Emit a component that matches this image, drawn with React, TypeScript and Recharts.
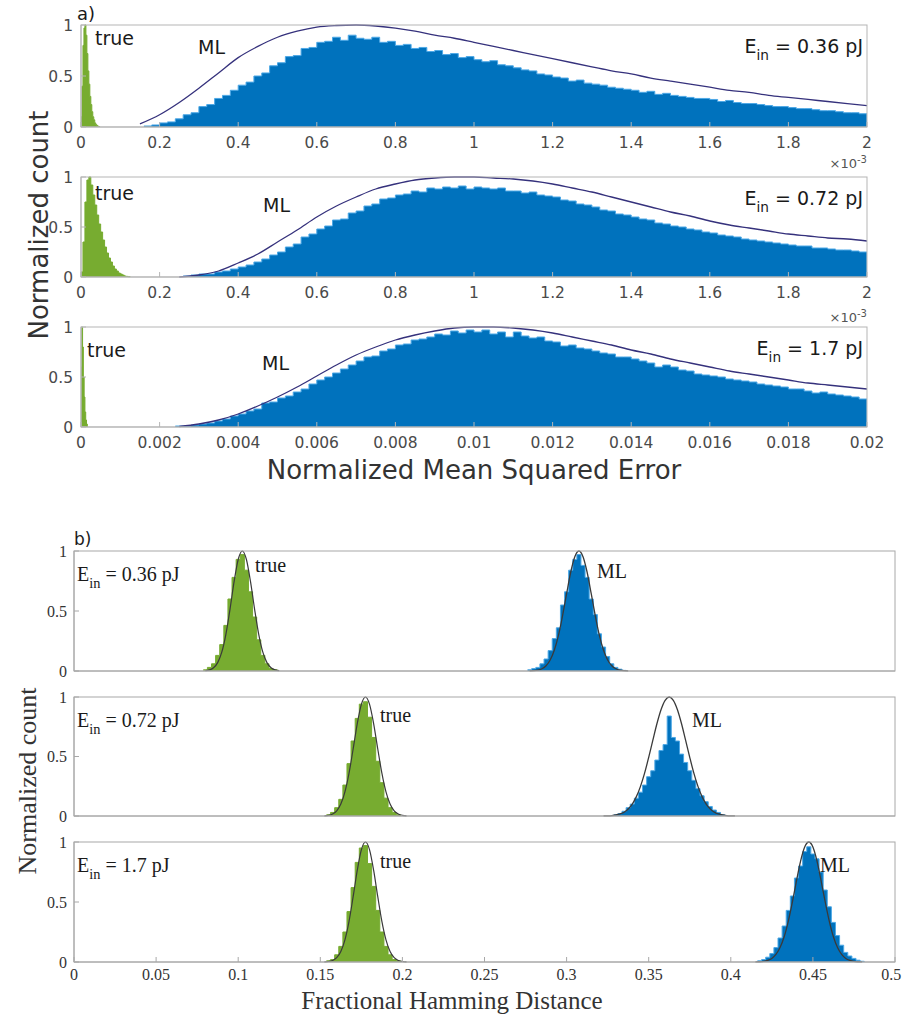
import React from "react";
import { ComposedChart, Area, Line, XAxis, YAxis } from "recharts";

// ---------- panel a : normalized mean squared error ----------
// E_in = 0.36 pJ
const a1TrueStart = 0;
const a1TrueBin = 0.0025;
const a1TrueCounts = [0.1, 0.4, 0.8, 0.97, 1.0, 0.9, 0.72, 0.55, 0.42, 0.3, 0.22, 0.15, 0.1, 0.07, 0.04, 0.025, 0.015, 0.008, 0.004];
const a1MlStart = 0.16;
const a1MlBin = 0.02;
const a1MlCounts = [
  0.01, 0.02, 0.04, 0.05, 0.08, 0.12, 0.14, 0.2, 0.22, 0.28,
  0.31, 0.36, 0.41, 0.44, 0.5, 0.53, 0.6, 0.63, 0.69, 0.7,
  0.77, 0.78, 0.83, 0.84, 0.88, 0.85, 0.9, 0.87, 0.86, 0.88,
  0.83, 0.84, 0.8, 0.81, 0.77, 0.78, 0.74, 0.75, 0.71, 0.72,
  0.68, 0.69, 0.66, 0.64, 0.65, 0.61, 0.6, 0.58, 0.56, 0.55,
  0.52, 0.51, 0.49, 0.48, 0.45, 0.46, 0.43, 0.42, 0.41, 0.39,
  0.38, 0.37, 0.36, 0.34, 0.35, 0.32, 0.33, 0.31, 0.3, 0.29,
  0.28, 0.28, 0.27, 0.25, 0.26, 0.24, 0.23, 0.23, 0.22, 0.21,
  0.2, 0.2, 0.19, 0.18, 0.18, 0.17, 0.16, 0.16, 0.15, 0.14,
  0.14, 0.13,
];
const a1FitStart = 0.15;
const a1FitStep = 0.05;
const a1Fit = [
  0.03, 0.12, 0.24, 0.38, 0.53, 0.68, 0.79, 0.88, 0.94, 0.98,
  0.995, 1.0, 0.99, 0.97, 0.94, 0.9, 0.87, 0.83, 0.79, 0.75,
  0.71, 0.67, 0.63, 0.59, 0.55, 0.52, 0.48, 0.45, 0.42, 0.39,
  0.36, 0.34, 0.31, 0.29, 0.27, 0.25, 0.23, 0.21,
];

// E_in = 0.72 pJ
const a2TrueStart = 0;
const a2TrueBin = 0.005;
const a2TrueCounts = [0.05, 0.35, 0.75, 0.97, 1.0, 0.92, 0.82, 0.72, 0.62, 0.53, 0.45, 0.37, 0.3, 0.24, 0.19, 0.15, 0.11, 0.08, 0.06, 0.04, 0.03, 0.02, 0.01, 0.006, 0.003];
const a2MlStart = 0.26;
const a2MlBin = 0.02;
const a2MlCounts = [
  0.01, 0.02, 0.03, 0.03, 0.05, 0.06, 0.08, 0.1, 0.12, 0.15,
  0.18, 0.22, 0.25, 0.3, 0.33, 0.4, 0.43, 0.48, 0.51, 0.57,
  0.58, 0.64, 0.66, 0.71, 0.73, 0.78, 0.79, 0.82, 0.83, 0.86,
  0.85, 0.89, 0.88, 0.9, 0.89, 0.91, 0.88, 0.9, 0.89, 0.88,
  0.89, 0.86, 0.86, 0.84, 0.85, 0.82, 0.81, 0.8, 0.77, 0.76,
  0.73, 0.72, 0.7, 0.67, 0.66, 0.63, 0.62, 0.6, 0.58, 0.57,
  0.54, 0.53, 0.51, 0.5, 0.48, 0.47, 0.45, 0.44, 0.42, 0.41,
  0.4, 0.38, 0.37, 0.36, 0.35, 0.34, 0.33, 0.32, 0.31, 0.31,
  0.29, 0.29, 0.28, 0.27, 0.27, 0.26, 0.25,
];
const a2FitStart = 0.25;
const a2FitStep = 0.05;
const a2Fit = [
  0, 0.02, 0.06, 0.14, 0.23, 0.35, 0.47, 0.6, 0.71, 0.8,
  0.88, 0.93, 0.97, 0.99, 1.0, 1.0, 0.99, 0.98, 0.96, 0.93,
  0.89, 0.85, 0.8, 0.75, 0.7, 0.65, 0.61, 0.56, 0.52, 0.49,
  0.46, 0.43, 0.41, 0.39, 0.38, 0.36,
];

// E_in = 1.7 pJ
const a3TrueStart = 0;
const a3TrueBin = 0.00002;
const a3TrueCounts = [0.6, 1.0, 0.8, 0.5, 0.3, 0.15, 0.07, 0.03];
const a3MlStart = 0.0024;
const a3MlBin = 0.0002;
const a3MlCounts = [
  0.01, 0.01, 0.02, 0.03, 0.04, 0.06, 0.08, 0.11, 0.13, 0.16,
  0.18, 0.24, 0.25, 0.29, 0.31, 0.35, 0.38, 0.43, 0.47, 0.5,
  0.54, 0.58, 0.62, 0.66, 0.7, 0.71, 0.76, 0.78, 0.82, 0.83,
  0.87, 0.88, 0.9, 0.93, 0.92, 0.96, 0.94, 0.97, 0.95, 0.97,
  0.93, 0.95, 0.9, 0.95, 0.91, 0.89, 0.9, 0.86, 0.85, 0.81,
  0.82, 0.79, 0.78, 0.76, 0.74, 0.73, 0.7, 0.7, 0.68, 0.66,
  0.64, 0.6, 0.62, 0.6, 0.57, 0.56, 0.53, 0.52, 0.51, 0.5,
  0.48, 0.47, 0.46, 0.45, 0.43, 0.42, 0.41, 0.4, 0.38, 0.38,
  0.36, 0.34, 0.35, 0.33, 0.32, 0.31, 0.3, 0.28,
];
const a3FitStart = 0.0025;
const a3FitStep = 0.0005;
const a3Fit = [
  0.005, 0.03, 0.07, 0.13, 0.21, 0.3, 0.4, 0.51, 0.62, 0.72,
  0.8, 0.87, 0.92, 0.96, 0.99, 1.0, 1.0, 0.99, 0.97, 0.94,
  0.9, 0.86, 0.82, 0.77, 0.73, 0.68, 0.64, 0.6, 0.56, 0.53,
  0.5, 0.47, 0.44, 0.42, 0.4, 0.38,
];

const aTicks = [0, 0.2, 0.4, 0.6, 0.8, 1, 1.2, 1.4, 1.6, 1.8, 2];
const a3Ticks = [0, 0.002, 0.004, 0.006, 0.008, 0.01, 0.012, 0.014, 0.016, 0.018, 0.02];

// ---------- panel b : fractional hamming distance ----------
const bBin = 0.0025;

const b1TrueStart = 0.07875;
const b1TrueCounts = [0.01, 0.03, 0.06, 0.13, 0.22, 0.38, 0.6, 0.78, 0.93, 0.97, 0.84, 0.66, 0.45, 0.26, 0.13, 0.06, 0.02, 0.01];
const b1TrueFitStart = 0.08;
const b1TrueFit = [0.0025, 0.009, 0.027, 0.07, 0.157, 0.306, 0.514, 0.744, 0.929, 1, 0.929, 0.744, 0.514, 0.306, 0.157, 0.07, 0.027, 0.009, 0.0025];
const b1MlStart = 0.27625;
const b1MlCounts = [0.01, 0.02, 0.03, 0.06, 0.1, 0.17, 0.27, 0.36, 0.55, 0.66, 0.84, 0.93, 0.97, 0.88, 0.78, 0.6, 0.47, 0.31, 0.2, 0.12, 0.06, 0.03, 0.015, 0.005];
const b1MlFitStart = 0.2775;
const b1MlFit = [0.0009, 0.0027, 0.0076, 0.019, 0.044, 0.092, 0.173, 0.295, 0.458, 0.644, 0.823, 0.952, 1, 0.952, 0.823, 0.644, 0.458, 0.295, 0.173, 0.092, 0.044, 0.019, 0.0076, 0.0027, 0.0009];

const b2TrueStart = 0.15375;
const b2TrueCounts = [0.01, 0.03, 0.07, 0.14, 0.26, 0.44, 0.63, 0.82, 0.94, 0.96, 0.83, 0.66, 0.46, 0.28, 0.15, 0.07, 0.03, 0.01];
const b2TrueFitStart = 0.1525;
const b2TrueFit = [0.0017, 0.0057, 0.017, 0.044, 0.101, 0.203, 0.36, 0.563, 0.775, 0.938, 1, 0.938, 0.775, 0.563, 0.36, 0.203, 0.101, 0.044, 0.017, 0.0057, 0.0017];
const b2MlStart = 0.32875;
const b2MlCounts = [0.01, 0.02, 0.04, 0.07, 0.1, 0.15, 0.2, 0.26, 0.33, 0.38, 0.47, 0.55, 0.6, 0.84, 0.66, 0.63, 0.52, 0.45, 0.38, 0.3, 0.23, 0.17, 0.12, 0.08, 0.05, 0.03, 0.01];
const b2MlFitStart = 0.3225;
const b2MlFit = [0.0007, 0.0017, 0.0039, 0.0083, 0.017, 0.032, 0.059, 0.1, 0.163, 0.249, 0.36, 0.493, 0.635, 0.775, 0.893, 0.972, 1, 0.972, 0.893, 0.775, 0.635, 0.493, 0.36, 0.249, 0.163, 0.1, 0.059, 0.032, 0.017, 0.0083, 0.0039, 0.0017, 0.0007];

const b3TrueStart = 0.15375;
const b3TrueCounts = [0.01, 0.02, 0.06, 0.13, 0.25, 0.42, 0.62, 0.83, 0.95, 0.97, 0.82, 0.63, 0.43, 0.25, 0.13, 0.06, 0.02, 0.01];
const b3TrueFitStart = 0.1525;
const b3TrueFit = [0.0012, 0.0043, 0.013, 0.036, 0.088, 0.185, 0.339, 0.544, 0.763, 0.935, 1, 0.935, 0.763, 0.544, 0.339, 0.185, 0.088, 0.036, 0.013, 0.0043, 0.0012];
const b3MlStart = 0.41625;
const b3MlCounts = [0.01, 0.02, 0.04, 0.07, 0.12, 0.2, 0.3, 0.43, 0.55, 0.7, 0.8, 0.92, 0.96, 0.9, 0.86, 0.75, 0.6, 0.46, 0.33, 0.22, 0.14, 0.08, 0.05, 0.03, 0.015, 0.006];
const b3MlFitStart = 0.415;
const b3MlFit = [0.0007, 0.002, 0.0053, 0.013, 0.03, 0.063, 0.12, 0.21, 0.339, 0.5, 0.677, 0.841, 0.958, 1, 0.958, 0.841, 0.677, 0.5, 0.339, 0.21, 0.12, 0.063, 0.03, 0.013, 0.0053, 0.002, 0.0007];

const bTicks = [0, 0.05, 0.1, 0.15, 0.2, 0.25, 0.3, 0.35, 0.4, 0.45, 0.5];
const yTicks = [0, 0.5, 1];

const GREEN = "#77AC30";
const BLUE = "#0072BD";
const SANS = "'DejaVu Sans', sans-serif";
const SERIF = "'Liberation Serif', 'Times New Roman', serif";

type Series = { key: string; start: number; step: number; values: number[]; hist?: boolean };

const round = (v: number) => Math.round(v * 1e8) / 1e8;

// merge histograms and fit curves into one table keyed by x
function buildRows(list: Series[]) {
  const rows = new Map<number, any>();
  const put = (x: number, key: string, v: number) => {
    const k = round(x);
    const row = rows.get(k) || { x: k };
    row[key] = v;
    rows.set(k, row);
  };
  list.forEach((s) => {
    s.values.forEach((v, i) => put(s.start + i * s.step, s.key, v));
    if (s.hist) put(s.start + s.values.length * s.step, s.key, 0);
  });
  return Array.from(rows.values()).sort((p, q) => p.x - q.x);
}

const a1Rows = buildRows([
  { key: "t", start: a1TrueStart, step: a1TrueBin, values: a1TrueCounts, hist: true },
  { key: "m", start: a1MlStart, step: a1MlBin, values: a1MlCounts, hist: true },
  { key: "f", start: a1FitStart, step: a1FitStep, values: a1Fit },
]);
const a2Rows = buildRows([
  { key: "t", start: a2TrueStart, step: a2TrueBin, values: a2TrueCounts, hist: true },
  { key: "m", start: a2MlStart, step: a2MlBin, values: a2MlCounts, hist: true },
  { key: "f", start: a2FitStart, step: a2FitStep, values: a2Fit },
]);
const a3Rows = buildRows([
  { key: "t", start: a3TrueStart, step: a3TrueBin, values: a3TrueCounts, hist: true },
  { key: "m", start: a3MlStart, step: a3MlBin, values: a3MlCounts, hist: true },
  { key: "f", start: a3FitStart, step: a3FitStep, values: a3Fit },
]);
const b1Rows = buildRows([
  { key: "t", start: b1TrueStart, step: bBin, values: b1TrueCounts, hist: true },
  { key: "ft", start: b1TrueFitStart, step: bBin, values: b1TrueFit },
  { key: "m", start: b1MlStart, step: bBin, values: b1MlCounts, hist: true },
  { key: "f", start: b1MlFitStart, step: bBin, values: b1MlFit },
]);
const b2Rows = buildRows([
  { key: "t", start: b2TrueStart, step: bBin, values: b2TrueCounts, hist: true },
  { key: "ft", start: b2TrueFitStart, step: bBin, values: b2TrueFit },
  { key: "m", start: b2MlStart, step: bBin, values: b2MlCounts, hist: true },
  { key: "f", start: b2MlFitStart, step: bBin, values: b2MlFit },
]);
const b3Rows = buildRows([
  { key: "t", start: b3TrueStart, step: bBin, values: b3TrueCounts, hist: true },
  { key: "ft", start: b3TrueFitStart, step: bBin, values: b3TrueFit },
  { key: "m", start: b3MlStart, step: bBin, values: b3MlCounts, hist: true },
  { key: "f", start: b3MlFitStart, step: bBin, values: b3MlFit },
]);

// x tick label that keeps the right-most label inside the page
const XTick = ({ x, y, payload, style }: any) => {
  const label = String(payload.value);
  const w = label.length * style.fontSize * 0.45;
  const cx = Math.min(x, 902 - w / 2);
  return (
    <text x={cx} y={y} dy="0.71em" textAnchor="middle" fontSize={style.fontSize} fill={style.fill} fontFamily={style.fontFamily}>
      {label}
    </text>
  );
};

const Sub = ({
  rows, top, plotH, plotL, plotR, domain, ticks, showX, font, tickFont,
  xMargin, yMargin, axisColor, textColor, fitColor, trueFit,
}: any) => {
  const mTop = 14;
  const axisH = 34;
  const tickStyle = { fontSize: tickFont, fill: textColor, fontFamily: font };
  return (
    <div style={{ position: "absolute", left: 0, top: top - mTop }}>
      <ComposedChart
        width={903}
        height={mTop + plotH + axisH}
        data={rows}
        margin={{ top: mTop, right: 903 - plotR, bottom: 0, left: 0 }}
      >
        <XAxis
          type="number"
          dataKey="x"
          domain={domain}
          ticks={ticks}
          interval={0}
          allowDataOverflow
          height={axisH}
          stroke={axisColor}
          tickSize={-5}
          tickMargin={xMargin}
          tick={showX ? (p: any) => <XTick {...p} style={tickStyle} /> : false}
        />
        <YAxis
          type="number"
          domain={[0, 1]}
          ticks={yTicks}
          interval={0}
          width={plotL}
          stroke={axisColor}
          tickSize={-5}
          tickMargin={yMargin}
          tick={tickStyle}
        />
        <Area
          type="stepAfter"
          dataKey="t"
          fill={GREEN}
          fillOpacity={1}
          stroke={GREEN}
          strokeWidth={1}
          connectNulls
          dot={false}
          activeDot={false}
          isAnimationActive={false}
        />
        <Area
          type="stepAfter"
          dataKey="m"
          fill={BLUE}
          fillOpacity={1}
          stroke="#4DA8E6"
          strokeWidth={1}
          connectNulls
          dot={false}
          activeDot={false}
          isAnimationActive={false}
        />
        {trueFit && (
          <Line
            type="monotone"
            dataKey="ft"
            stroke={fitColor}
            strokeWidth={1.2}
            dot={false}
            activeDot={false}
            connectNulls
            isAnimationActive={false}
          />
        )}
        <Line
          type="monotone"
          dataKey="f"
          stroke={fitColor}
          strokeWidth={1.3}
          dot={false}
          activeDot={false}
          connectNulls
          isAnimationActive={false}
        />
      </ComposedChart>
    </div>
  );
};

const Ein = ({ x, y, v, anchor, size, font }: any) => (
  <text x={x} y={y} textAnchor={anchor} fontSize={size} fontFamily={font} fill="#1a1a1a">
    E
    <tspan fontSize={size * 0.72} dy={size * 0.35}>in</tspan>
    <tspan dy={-size * 0.35}>{` = ${v} pJ`}</tspan>
  </text>
);

const Exp = ({ y }: any) => (
  <text x={867} y={y} textAnchor="end" fontSize={13} fontFamily={SANS} fill="#555">
    ×10
    <tspan dy={-5} fontSize={10}>-3</tspan>
  </text>
);

// subplot frames (box outline around each axes)
const aFrames = [
  { top: 25, h: 102 },
  { top: 177, h: 100 },
  { top: 327, h: 100 },
];
const bFrames = [
  { top: 551, h: 120 },
  { top: 697, h: 119 },
  { top: 842, h: 120 },
];

const aCommon = {
  plotL: 81, plotR: 867, font: SANS, tickFont: 15.5, xMargin: 15, yMargin: 13,
  axisColor: "#b5b5b5", textColor: "#4a4a4a", fitColor: "#35317c", showX: true,
};
const bCommon = {
  plotL: 74, plotR: 895, domain: [0, 0.5], ticks: bTicks, font: SERIF, tickFont: 16,
  xMargin: 12, yMargin: 12, axisColor: "#a8a8a8", textColor: "#333", fitColor: "#3a3a3a", trueFit: true,
};

export default function App() {
  return (
    <div style={{ position: "absolute", left: 0, top: 0, width: 903, height: 1024, background: "#fff" }}>
      <Sub {...aCommon} rows={a1Rows} top={aFrames[0].top} plotH={aFrames[0].h} domain={[0, 2]} ticks={aTicks} />
      <Sub {...aCommon} rows={a2Rows} top={aFrames[1].top} plotH={aFrames[1].h} domain={[0, 2]} ticks={aTicks} />
      <Sub {...aCommon} rows={a3Rows} top={aFrames[2].top} plotH={aFrames[2].h} domain={[0, 0.02]} ticks={a3Ticks} />

      <Sub {...bCommon} rows={b1Rows} top={bFrames[0].top} plotH={bFrames[0].h} showX={false} />
      <Sub {...bCommon} rows={b2Rows} top={bFrames[1].top} plotH={bFrames[1].h} showX={false} />
      <Sub {...bCommon} rows={b3Rows} top={bFrames[2].top} plotH={bFrames[2].h} showX={true} />

      <svg width={903} height={1024} style={{ position: "absolute", left: 0, top: 0, pointerEvents: "none" }}>
        {aFrames.map((f, i) => (
          <rect key={"a" + i} x={aCommon.plotL} y={f.top} width={aCommon.plotR - aCommon.plotL} height={f.h}
            fill="none" stroke={aCommon.axisColor} strokeWidth={1} />
        ))}
        {bFrames.map((f, i) => (
          <rect key={"b" + i} x={bCommon.plotL} y={f.top} width={bCommon.plotR - bCommon.plotL} height={f.h}
            fill="none" stroke={bCommon.axisColor} strokeWidth={1} />
        ))}

        {/* panel a labels */}
        <text x={77} y={20} fontSize={18} fontFamily={SANS} fill="#1a1a1a">a)</text>
        <text x={95} y={45} fontSize={19} fontFamily={SANS} fill="#1a1a1a">true</text>
        <text x={198} y={54} fontSize={19} fontFamily={SANS} fill="#1a1a1a">ML</text>
        <Ein x={863} y={53} v="0.36" anchor="end" size={19} font={SANS} />

        <Exp y={168} />
        <text x={95} y={200} fontSize={19} fontFamily={SANS} fill="#1a1a1a">true</text>
        <text x={263} y={212} fontSize={19} fontFamily={SANS} fill="#1a1a1a">ML</text>
        <Ein x={863} y={205} v="0.72" anchor="end" size={19} font={SANS} />

        <Exp y={322} />
        <text x={87} y={357} fontSize={19} fontFamily={SANS} fill="#1a1a1a">true</text>
        <text x={262} y={370} fontSize={19} fontFamily={SANS} fill="#1a1a1a">ML</text>
        <Ein x={863} y={355} v="1.7" anchor="end" size={19} font={SANS} />

        <text x={48} y={225} transform="rotate(-90 48 225)" textAnchor="middle" fontSize={26} fontFamily={SANS} fill="#333">
          Normalized count
        </text>
        <text x={474} y={479} textAnchor="middle" fontSize={26} fontFamily={SANS} fill="#333">
          Normalized Mean Squared Error
        </text>

        {/* panel b labels */}
        <text x={74} y={545} fontSize={17} fontFamily={SANS} fill="#1a1a1a">b)</text>
        <Ein x={77} y={581} v="0.36" anchor="start" size={20} font={SERIF} />
        <text x={255} y={572} fontSize={20} fontFamily={SERIF} fill="#1a1a1a">true</text>
        <text x={597} y={578} fontSize={20} fontFamily={SERIF} fill="#1a1a1a">ML</text>

        <Ein x={77} y={727} v="0.72" anchor="start" size={20} font={SERIF} />
        <text x={380} y={722} fontSize={20} fontFamily={SERIF} fill="#1a1a1a">true</text>
        <text x={692} y={727} fontSize={20} fontFamily={SERIF} fill="#1a1a1a">ML</text>

        <Ein x={77} y={872} v="1.7" anchor="start" size={20} font={SERIF} />
        <text x={380} y={868} fontSize={20} fontFamily={SERIF} fill="#1a1a1a">true</text>
        <text x={820} y={872} fontSize={20} fontFamily={SERIF} fill="#1a1a1a">ML</text>

        <text x={36} y={781} transform="rotate(-90 36 781)" textAnchor="middle" fontSize={26} fontFamily={SERIF} fill="#333">
          Normalized count
        </text>
        <text x={452} y={1009} textAnchor="middle" fontSize={25} fontFamily={SERIF} fill="#333">
          Fractional Hamming Distance
        </text>
      </svg>
    </div>
  );
}
